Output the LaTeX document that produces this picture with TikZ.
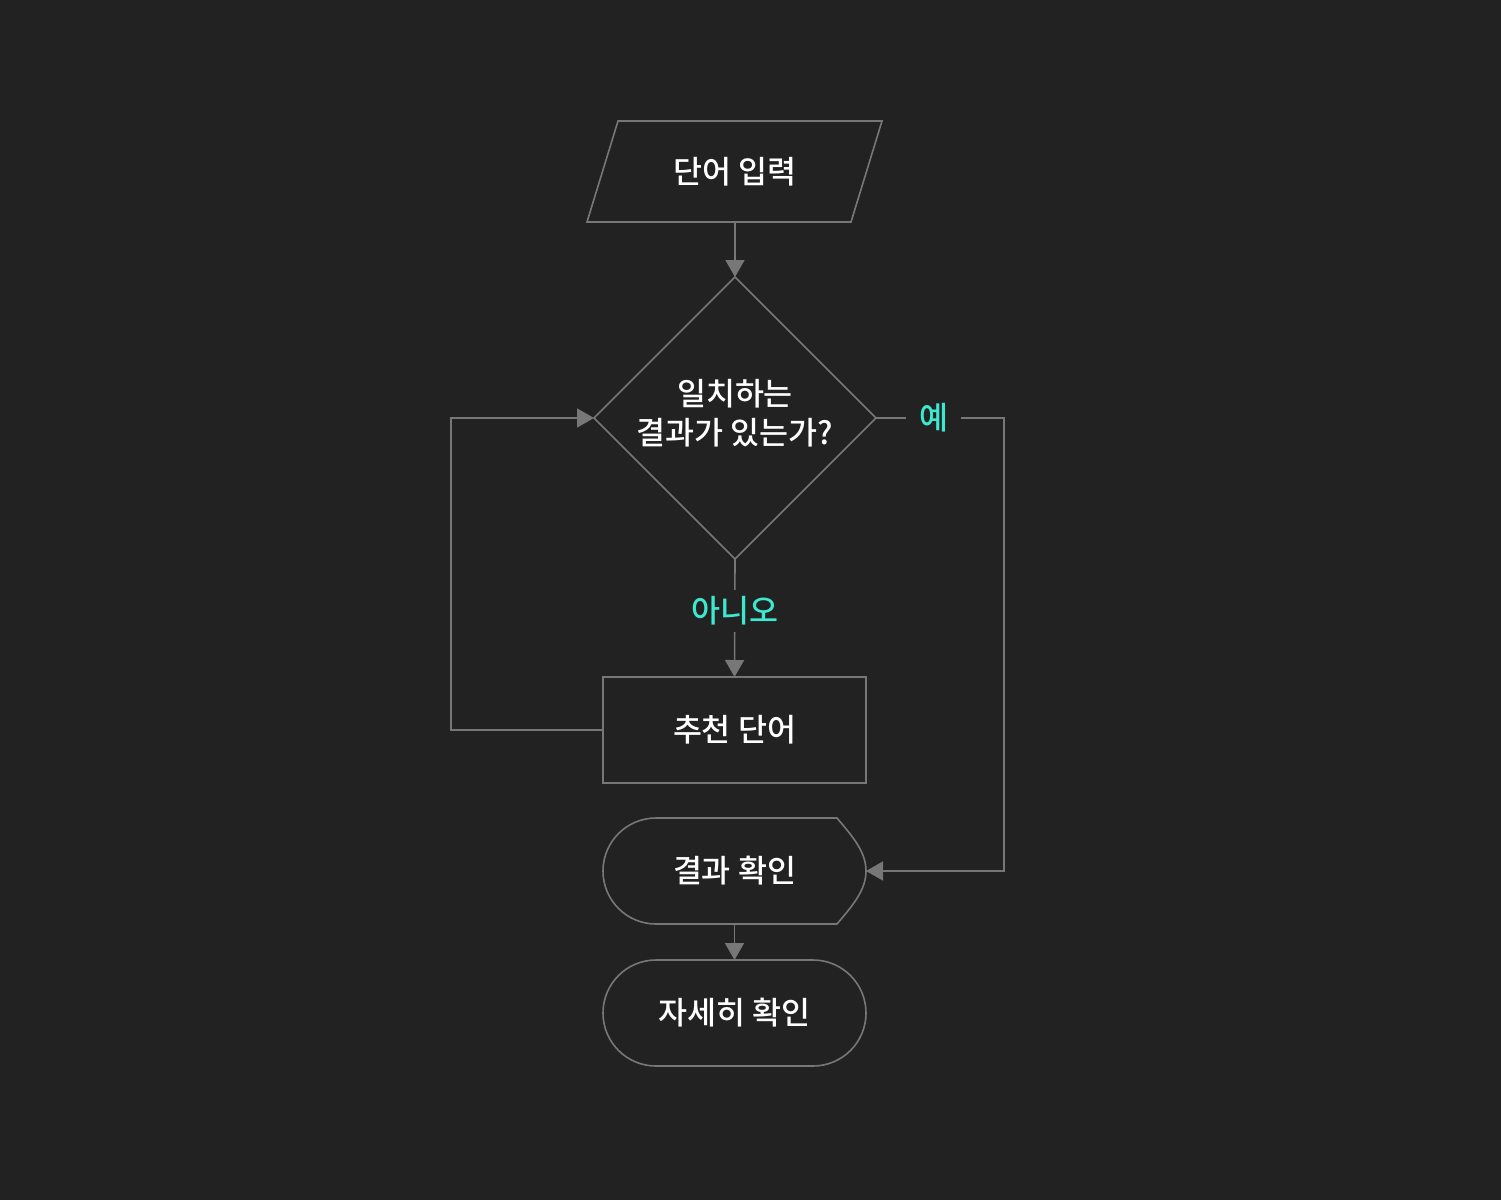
\documentclass[tikz,border=0pt]{standalone}
\usepackage{fontspec}
\setmainfont{Noto Sans CJK KR}[UprightFont={* Medium}]
\usetikzlibrary{arrows.meta,shapes.geometric}
\definecolor{bg}{HTML}{222222}
\definecolor{ln}{HTML}{777777}
\definecolor{lbl}{HTML}{3DE8D0}
\tikzset{
  outline/.style={draw=ln, line width=1.6pt},
  txt/.style={text=white, font=\fontsize{31.5}{39}\selectfont, align=center, inner sep=0pt, outer sep=0pt},
  box/.style={txt, minimum width=263pt, minimum height=106pt},
  conn/.style={draw=ln, line width=1.6pt, -{Triangle[length=17pt,width=19pt]}},
  edgelbl/.style={text=lbl, font=\fontsize{31.5}{36}\selectfont, fill=bg, inner xsep=13pt, inner ysep=7pt}
}
\begin{document}
\begin{tikzpicture}[x=1pt,y=-1pt]
\fill[bg] (0,0) rectangle (1501,1200);
\useasboundingbox (0,0) rectangle (1501,1200);
% input parallelogram
\draw[outline] (618,121) -- (882,121) -- (851,222) -- (587,222) -- cycle;
\node[txt, minimum width=234pt, minimum height=101pt] (inp) at (735,171.5) {단어 입력};
% decision
\node[draw=ln, line width=1.6pt, diamond, aspect=1, inner sep=0pt, outer sep=0pt, minimum width=282pt, minimum height=282pt] (dec) at (735,418) {};
\node[txt] (dectxt) at (735,413) {일치하는\\결과가 있는가?};
% recommendation
\node[box, draw=ln, line width=1.6pt] (rec) at (734.5,730) {추천 단어};
% display shape
\draw[outline] (837,818) .. controls (853,837) and (866,852) .. (866,871)
  .. controls (866,890) and (853,905) .. (837,924) -- (656,924)
  arc[start angle=90, end angle=270, radius=53] -- cycle;
\node[box] (disp) at (734.5,871) {결과 확인};
% terminal
\node[box, draw=ln, line width=1.6pt, rounded corners=53pt] (fin) at (734.5,1013) {자세히 확인};
% connectors
\draw[conn] (inp.south) -- (dec.north);
\draw[conn] (dec.south) -- node[edgelbl, pos=0.44] (no) {아니오} (rec.north);
\coordinate (lpt) at (451,730);
\draw[conn] (rec.west) -- (lpt) |- (dec.west);
\coordinate (rpt) at (1004,418);
\draw[conn] (dec.east) -- node[edgelbl, pos=0.45] (yes) {예} (rpt) |- (disp.east);
\draw[conn] (disp.south) -- (fin.north);
\end{tikzpicture}
\end{document}
